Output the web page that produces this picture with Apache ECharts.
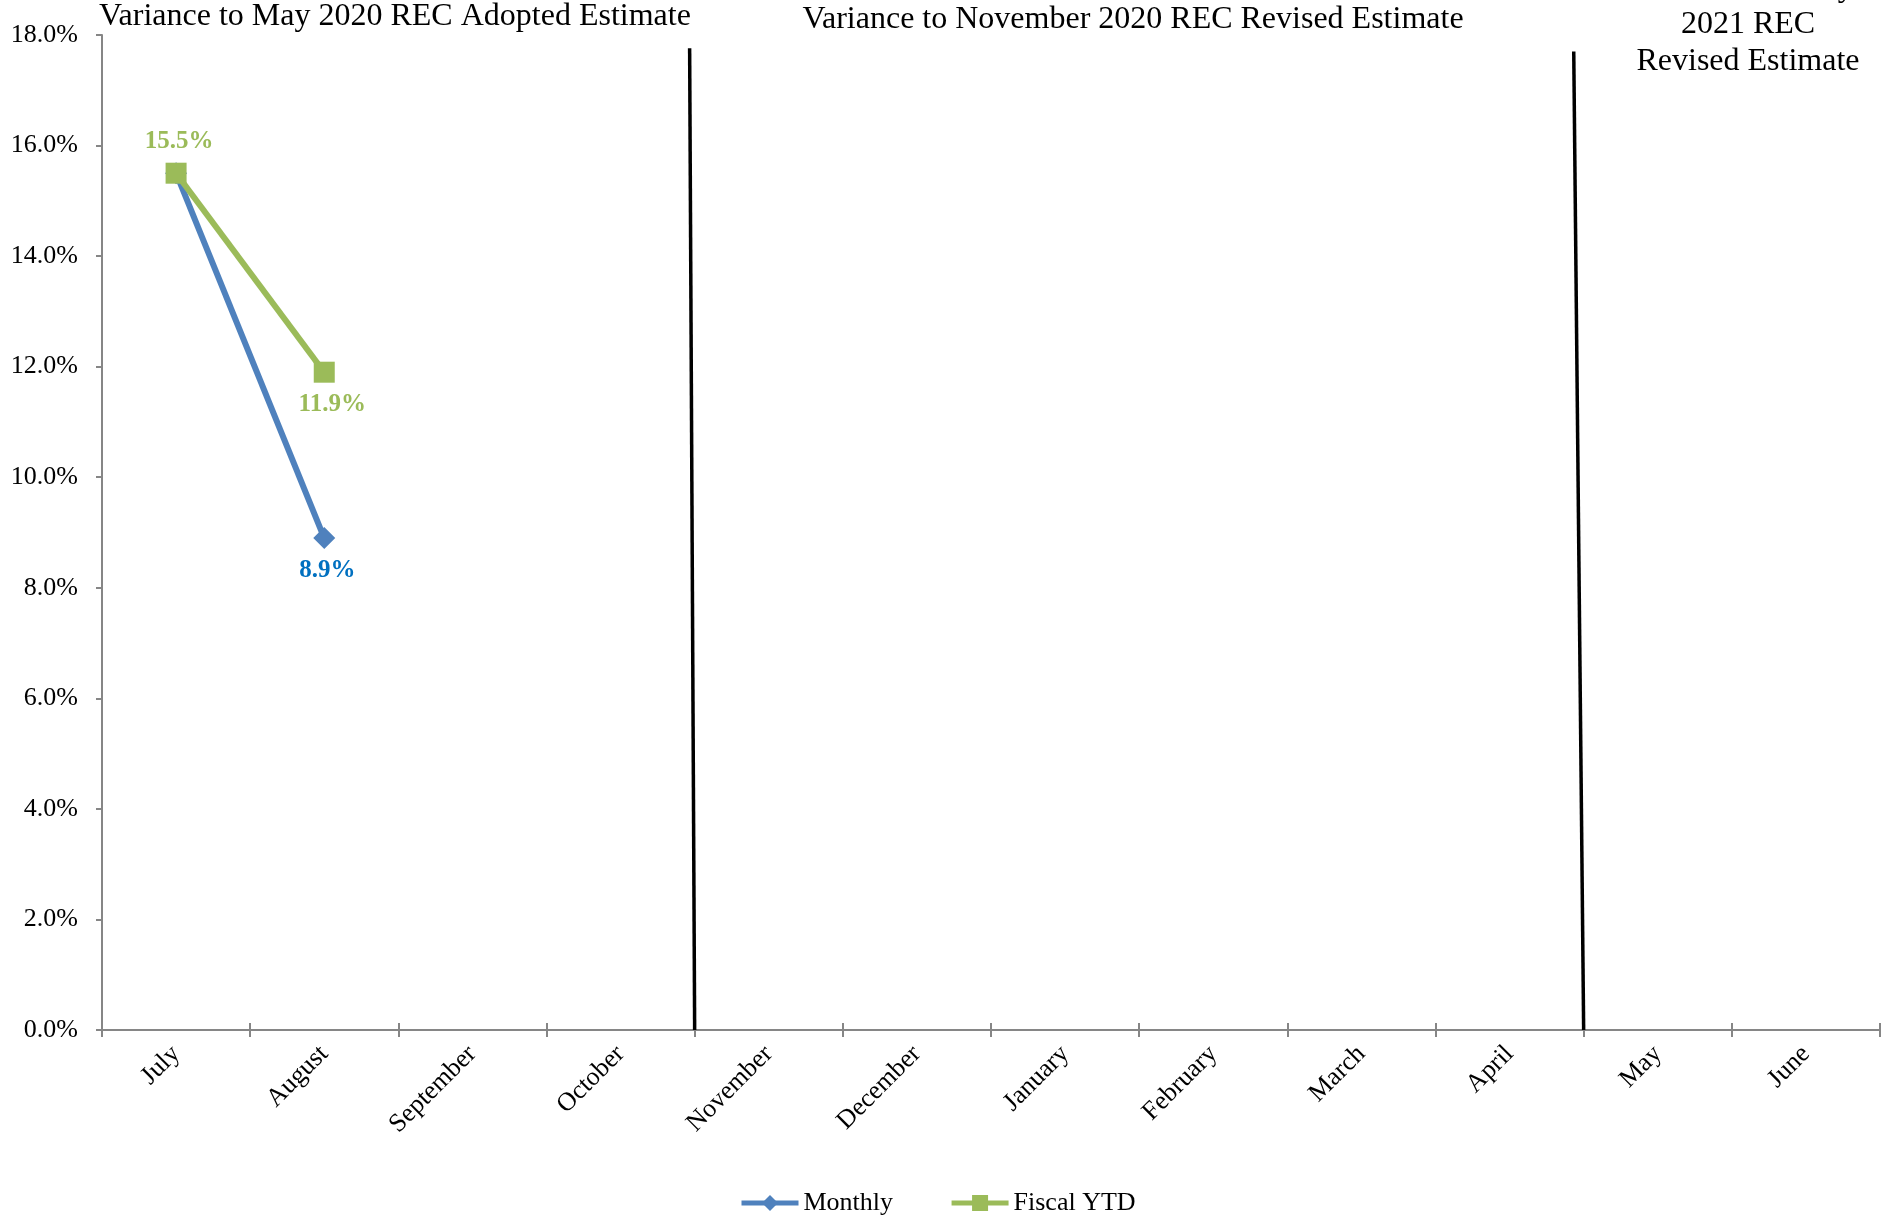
<!DOCTYPE html>
<html>
<head>
<meta charset="utf-8">
<script src="https://cdn.jsdelivr.net/npm/echarts@6/dist/echarts.min.js"></script>
<style>
html,body{margin:0;padding:0;background:#fff;}
#chart{width:1890px;height:1217px;}
</style>
</head>
<body>
<div id="chart"></div>
<script>
const categories = ['July','August','September','October','November','December','January','February','March','April','May','June'];
const monthly = [15.5, 8.9, null, null, null, null, null, null, null, null, null, null];
const fiscalYTD = [15.5, 11.9, null, null, null, null, null, null, null, null, null, null];
// label placement per point (style): 'hide' | 'top' | 'bottom'
const monthlyLabelPos = ['hide','bottom'];
const fiscalLabelPos = ['top','bottom'];
// period dividers in boundary units (0 = left edge of July, 12 = right edge of June)
const divider1 = [[3.966, 17.76], [4, 0]];
const divider2 = [[9.933, 17.7], [10, 0]];
const yMin = 0, yMax = 18, yInterval = 2;
const headerLeft = 'Variance to May 2020 REC Adopted Estimate';
const headerMid = 'Variance to November 2020 REC Revised Estimate';
const headerRight = 'Variance to May\n2021 REC\nRevised Estimate';

const FONT = "'Times New Roman','Liberation Serif',serif";
const BLUE = '#4F81BD', GREEN = '#9BBB59', BLUE_LBL = '#0070C0';

function buildData(vals, pos, color) {
  return vals.map((v, i) => {
    const p = pos[i];
    if (v === null) return null;
    if (!p || p === 'hide') return { value: v, label: { show: false } };
    return { value: v, label: { show: true, position: p, distance: 9, color: color,
      offset: [p === 'bottom' && color === GREEN ? 8 : 3, 0],
      fontFamily: FONT, fontWeight: 'bold', fontSize: 25,
      formatter: (d) => d.value.toFixed(1) + '%' } };
  });
}

const chart = echarts.init(document.getElementById('chart'));
chart.setOption({
  backgroundColor: '#fff',
  animation: false,
  textStyle: { fontFamily: FONT },
  grid: { left: 102, right: 10, top: 35, bottom: 187, containLabel: false },
  legend: {
    left: 734, top: 1185,
    itemWidth: 57, itemHeight: 20, itemGap: 56,
    lineStyle: { width: 5 },
    textStyle: { fontFamily: FONT, fontSize: 26, color: '#000' },
    data: ['Monthly', 'Fiscal YTD']
  },
  xAxis: [{
    type: 'category', data: categories, boundaryGap: true,
    axisLine: { lineStyle: { color: '#868686', width: 2 } },
    axisTick: { show: true, length: 7, lineStyle: { color: '#868686', width: 2 } },
    axisLabel: { rotate: 45, fontFamily: FONT, fontSize: 26, color: '#000', margin: 20, interval: 0 }
  }, {
    type: 'value', min: 0, max: 12, interval: 1, show: true,
    position: 'bottom',
    axisLine: { show: false },
    axisTick: { show: true, inside: true, length: 7, lineStyle: { color: '#868686', width: 2 } },
    axisLabel: { show: false },
    splitLine: { show: false }
  }],
  yAxis: {
    type: 'value', min: yMin, max: yMax, interval: yInterval,
    axisLine: { show: true, lineStyle: { color: '#868686', width: 2 } },
    axisTick: { show: true, length: 6, lineStyle: { color: '#868686', width: 2 } },
    splitLine: { show: false },
    axisLabel: { fontFamily: FONT, fontSize: 26, color: '#000', margin: 24,
      formatter: (v) => v.toFixed(1) + '%' }
  },
  graphic: [
    { type: 'text', left: 99, top: 1, style: { text: headerLeft, font: '32px ' + FONT, fill: '#000' } },
    { type: 'text', x: 1133, y: 20, style: { text: headerMid, font: '32px ' + FONT, fill: '#000', align: 'center', verticalAlign: 'middle' } },
    { type: 'text', x: 1748, y: 25, style: { text: headerRight, font: '32px ' + FONT, fill: '#000', align: 'center', verticalAlign: 'middle', lineHeight: 37 } }
  ],
  series: [
    {
      name: 'Monthly', type: 'line', xAxisIndex: 0,
      data: buildData(monthly, monthlyLabelPos, BLUE_LBL),
      symbol: 'diamond', symbolSize: 22,
      lineStyle: { color: BLUE, width: 6 },
      itemStyle: { color: BLUE },
      connectNulls: false, z: 3
    },
    {
      name: 'Fiscal YTD', type: 'line', xAxisIndex: 0,
      data: buildData(fiscalYTD, fiscalLabelPos, GREEN),
      symbol: 'rect', symbolSize: 21,
      lineStyle: { color: GREEN, width: 6 },
      itemStyle: { color: GREEN },
      connectNulls: false, z: 4
    },
    {
      name: 'divider1', type: 'line', xAxisIndex: 1, data: divider1,
      symbol: 'none', lineStyle: { color: '#000', width: 3.5 }, z: 2, silent: true
    },
    {
      name: 'divider2', type: 'line', xAxisIndex: 1, data: divider2,
      symbol: 'none', lineStyle: { color: '#000', width: 3.5 }, z: 2, silent: true
    }
  ]
});
</script>
</body>
</html>
